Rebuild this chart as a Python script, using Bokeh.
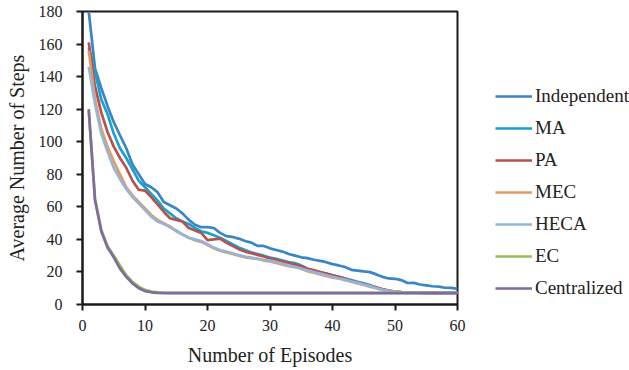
from bokeh.plotting import figure
from bokeh.models import Legend, LegendItem, Range1d, FixedTicker
from bokeh.embed import file_html
from bokeh.resources import INLINE

episodes = list(range(1, 61))

independent = [180, 145, 133, 122, 112, 104, 96, 86, 80, 74,
               72, 69, 63, 61, 59, 56, 52, 49, 47.5, 47.5,
               47, 44, 42, 41.5, 40.5, 39, 38, 36, 36, 34.5,
               33.5, 32.5, 31, 30, 29, 28.5, 27.5, 26.8, 26, 24.8,
               24, 23, 21.3, 20.8, 20.3, 19.9, 18.5, 17, 16, 15.8,
               15, 13.2, 13.3, 12.3, 11.8, 11.2, 11, 10.3, 10.2, 9.6]
ma = [158, 143, 126, 117, 105, 96, 90, 83, 76, 72,
      68, 64, 59, 56, 53, 51, 49.5, 47, 45, 44,
      42.5, 41, 39, 37, 35, 33.5, 32, 31, 30, 28.8,
      28, 27, 26, 25.5, 24, 22, 21, 20, 19, 18,
      17, 16, 15, 14, 13, 12, 10.5, 9.2, 8.5, 8,
      7.6, 7.4, 7.3, 7.3, 7.2, 7.2, 7.2, 7.2, 7.2, 7.2]
pa = [161, 134, 118, 106, 97, 90, 84, 76, 70.5, 70,
      66, 61.5, 57, 53, 52, 51, 47, 45.5, 44, 39.5,
      40, 40.5, 38, 36, 34, 32.5, 31.5, 30.5, 29.5, 28.3,
      27.5, 26.5, 25.5, 24.5, 23.5, 22, 21, 20, 19, 18,
      17, 16, 14.5, 13.5, 12.5, 11.5, 10.5, 9.5, 8.6, 8,
      7.6, 7.4, 7.3, 7.3, 7.2, 7.2, 7.2, 7.2, 7.2, 7.2]
mec = [156, 126, 108, 97, 88, 80, 72, 67, 63, 59,
       55, 52, 50, 48, 45, 43, 41, 39.5, 38.5, 36.5,
       34.5, 33, 32, 31, 30, 29, 28.5, 28, 27, 26.5,
       25.5, 24.5, 23.5, 23, 22, 20.5, 19.5, 18.5, 17.5, 16.5,
       16, 15, 14, 13, 12, 11, 10, 9, 8.3, 7.8,
       7.5, 7.3, 7.3, 7.2, 7.2, 7.2, 7.2, 7.2, 7.2, 7.2]
heca = [146, 123, 105, 94, 84, 77, 71, 66, 62, 58,
        54, 51, 49.5, 47.5, 45.5, 43, 41, 40, 39, 37,
        35, 33.5, 32.5, 31.5, 30.3, 29.5, 28.8, 28, 27.5, 27,
        26, 25, 24, 23, 22, 21, 20, 19, 18, 17,
        16, 15.3, 14.3, 13.3, 12.3, 11.3, 10, 9, 8.2, 7.8,
        7.5, 7.3, 7.3, 7.2, 7.2, 7.2, 7.2, 7.2, 7.2, 7.2]
ec = [119, 65, 46, 36, 30, 24, 18, 14, 11, 9,
      8, 7.5, 7.3] + [7.2] * 47
centralized = [120, 64, 45, 35, 29, 22, 17, 13, 10, 8.2,
               7.5, 7.2] + [7.0] * 48

names = ["Independent", "MA", "PA", "MEC", "HECA", "EC", "Centralized"]
series = [independent, ma, pa, mec, heca, ec, centralized]
colors = ["#3A86C4", "#17A3CE", "#B5524D", "#E59A5C", "#95B4DA", "#9BBB59", "#7F6BA0"]

x_ticks = [0, 10, 20, 30, 40, 50, 60]
y_ticks = [0, 20, 40, 60, 80, 100, 120, 140, 160, 180]

FONT = "Liberation Serif"

p = figure(frame_width=375, frame_height=293, output_backend="svg", toolbar_location=None,
           x_range=Range1d(0, 60), y_range=Range1d(0, 180),
           min_border_left=82, min_border_top=11, min_border_right=172,
           min_border_bottom=66)
p.xgrid.visible = False
p.ygrid.visible = False
p.outline_line_color = "#1a1a1a"
p.outline_line_width = 2
p.background_fill_color = "white"
p.border_fill_color = "white"

renderers = []
for name, vals, col in zip(names, series, colors):
    r = p.line(episodes, vals, line_color=col, line_width=2.7)
    renderers.append((name, r))

for ax in (p.xaxis[0], p.yaxis[0]):
    ax.axis_line_color = "#1a1a1a"
    ax.axis_line_width = 2
    ax.major_tick_line_color = "#1a1a1a"
    ax.major_tick_line_width = 2
    ax.major_tick_in = 0
    ax.major_tick_out = 6
    ax.minor_tick_line_color = None
    ax.major_label_text_font = FONT
    ax.major_label_text_font_size = "16px"
    ax.major_label_text_color = "#222222"
    ax.axis_label_text_font = FONT
    ax.axis_label_text_font_size = "20px"
    ax.axis_label_text_font_style = "normal"
    ax.axis_label_text_color = "#222222"

p.xaxis[0].ticker = FixedTicker(ticks=x_ticks)
p.yaxis[0].ticker = FixedTicker(ticks=y_ticks)
p.xaxis[0].axis_label = "Number of Episodes"
p.yaxis[0].axis_label = "Average Number of Steps"
p.xaxis[0].major_label_standoff = 9
p.yaxis[0].major_label_standoff = 14
p.xaxis[0].axis_label_standoff = 10
p.yaxis[0].axis_label_standoff = 8

legend = Legend(items=[LegendItem(label=n, renderers=[r]) for n, r in renderers],
                location=(38, 5), orientation="vertical",
                glyph_width=37, glyph_height=20, spacing=10, label_standoff=3,
                padding=0, margin=0, border_line_color=None,
                background_fill_alpha=0,
                label_text_font=FONT, label_text_font_size="19px",
                label_text_color="#222222", label_height=20)
p.add_layout(legend, "right")

open("out.html", "w").write(file_html(p, INLINE))
